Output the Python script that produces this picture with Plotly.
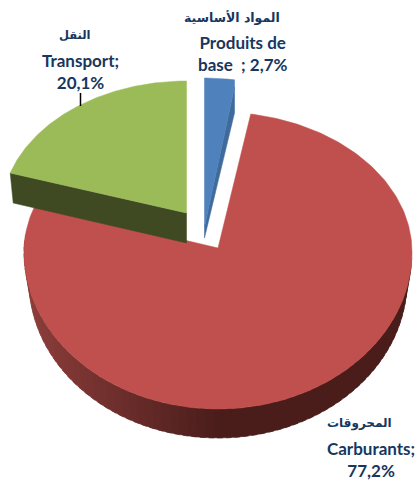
import math
import plotly.graph_objects as go

# Data
categories = ["Produits de base", "Carburants", "Transport"]
values = [2.7, 77.2, 20.1]
label_ar = ["المواد الأساسية", "المحروقات", "النقل"]
label_txt = ["Produits de<br>base  ; 2,7%", "Carburants;<br>77,2%", "Transport;<br>20,1%"]
colors_top = ["#4F81BD", "#C0504D", "#9BBB59"]
colors_side = ["#3F6A9C", "#4A1D1B", "#3F4A22"]

W, H = 417, 481
# geometry per slice: apex x,y ; arc centre y ; rx ; ry far ; ry near ; depth
geo = {
    "Produits de base": dict(ax=204.5, ay=227, cy=208, rx=178, rt=130, rb=130, d=11, rim0=7, rim1=33),
    "Carburants": dict(ax=218, ay=248, cy=252, rx=194, rt=140, rb=157, d=29),
    "Transport": dict(ax=186.5, ay=213, cy=213, rx=185, rt=132, rb=132, d=30),
}
UNDERLAP_DEG = 2  # Carburants runs slightly under the Transport side, leaving no gap

def pt(g, deg, dy=0, shrink=0.0):
    t = math.radians(deg)
    c = math.cos(t)
    r = g["rt"] if c >= 0 else g["rb"]
    return g["ax"] + (g["rx"] - shrink) * math.sin(t), g["cy"] + dy - r * c

def arc(g, a0, a1, dy=0, shrink=0.0, n=120):
    pts = [pt(g, a0 + (a1 - a0) * i / n, dy, shrink) for i in range(n + 1)]
    return [p[0] for p in pts], [p[1] for p in pts]

def lerp_col(c0, c1, f):
    f = max(0, min(1, f))
    return "rgb(%d,%d,%d)" % tuple(round(a + (b - a) * f) for a, b in zip(c0, c1))

def poly(x, y, color):
    return go.Scatter(x=x, y=y, mode="lines", fill="toself", fillcolor=color,
                      line=dict(color=color, width=0.5), hoverinfo="skip", showlegend=False)

# slice angles from the values
angles = {}
acc = 0
for c, v in zip(categories, values):
    angles[c] = (acc * 3.6, (acc + v) * 3.6)
    acc += v

fig = go.Figure()

# Carburants: side, drawn as shaded strips
g = geo["Carburants"]
a0, a1 = angles["Carburants"]
n_strip = 70
s0, s1 = 92, a1 - 12
for i in range(n_strip):
    b0 = s0 + (s1 - s0) * i / n_strip
    b1 = s0 + (s1 - s0) * (i + 1.6) / n_strip
    xt, yt = arc(g, b0, b1, 0, 0, 4)
    xb, yb = arc(g, b0, b1, g["d"], 5, 4)
    xm = (xt[0] + xt[-1]) / 2
    col = lerp_col((74, 29, 27), (140, 62, 59), (215 - xm) / 190)
    fig.add_trace(poly(xt + xb[::-1], yt + yb[::-1], col))

# Carburants: top
xa, ya = arc(g, a0, a1 + UNDERLAP_DEG, n=240)
fig.add_trace(poly([g["ax"]] + xa + [g["ax"]], [g["ay"]] + ya + [g["ay"]], colors_top[1]))

# Transport: side and top
g = geo["Transport"]
a0, a1 = angles["Transport"]
x0, y0 = pt(g, a0)
fig.add_trace(poly([x0, g["ax"], g["ax"], x0 + 3, x0],
                   [y0, g["ay"], g["ay"] + g["d"], y0 + g["d"], y0], colors_side[2]))
xa, ya = arc(g, a0, a1)
fig.add_trace(poly([g["ax"]] + xa + [g["ax"]], [g["ay"]] + ya + [g["ay"]], colors_top[2]))

# Produits de base: side and top
g = geo["Produits de base"]
a0, a1 = angles["Produits de base"]
x1, y1 = pt(g, a1)
fig.add_trace(poly([g["ax"], x1, x1, g["ax"], g["ax"]],
                   [g["ay"], y1 + g["rim0"], y1 + g["rim1"], g["ay"] + g["d"], g["ay"]], colors_side[0]))
xa, ya = arc(g, a0, a1, n=20)
fig.add_trace(poly([g["ax"]] + xa + [x1, g["ax"]],
                   [g["ay"]] + ya + [y1 + g["rim0"], g["ay"]], colors_top[0]))

TXT = "#17375E"
def label(x, y, text, size, family="Lato, 'Open Sans', sans-serif"):
    fig.add_annotation(x=x, y=y, text="<b>%s</b>" % text, showarrow=False, xref="x", yref="y",
                       font=dict(size=size, color=TXT, family=family), align="center")

AR = "'DejaVu Sans', sans-serif"
label(232, 17, label_ar[0], 12.5, AR)
label(243, 53.5, label_txt[0], 17)
label(75, 35, label_ar[2], 11.5, AR)
label(80.5, 71.5, label_txt[2], 17)
label(359, 423, label_ar[1], 12, AR)
label(371, 459.5, label_txt[1], 17)

fig.add_shape(type="line", x0=80.5, x1=80.5, y0=93, y1=106, line=dict(color="black", width=1.5),
              xref="x", yref="y")

fig.update_layout(width=W, height=H, margin=dict(l=0, r=0, t=0, b=0),
                  paper_bgcolor="white", plot_bgcolor="white", showlegend=False,
                  xaxis=dict(range=[0, W], visible=False, fixedrange=True),
                  yaxis=dict(range=[H, 0], visible=False, fixedrange=True))
fig.write_html("out.html", config={"displayModeBar": False},
               post_script="document.body.style.margin='0';document.documentElement.style.overflow='hidden';")
